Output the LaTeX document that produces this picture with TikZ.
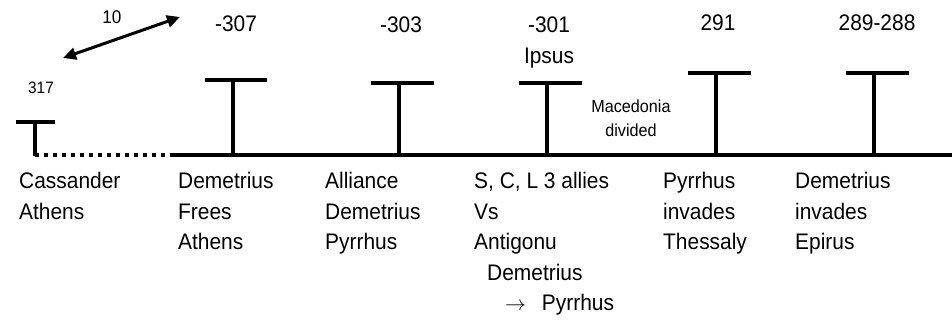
\documentclass[tikz,border=0pt]{standalone}
\usepackage{fontspec}
\setmainfont{Liberation Sans}[FakeStretch=0.93]
\usetikzlibrary{arrows.meta}
\tikzset{
  event/.style={anchor=north west, align=left, inner sep=0pt, font=\fontsize{22.5}{30.5}\selectfont},
  year/.style={anchor=base, inner sep=0pt, font=\fontsize{22.5}{25}\selectfont},
  tbar/.style={line width=4pt},
}
\begin{document}
\begin{tikzpicture}[x=1pt,y=-1pt]
\useasboundingbox (0,0) rectangle (952,323);
% Timeline
\draw[line width=3.5pt, dash pattern=on 4pt off 5pt] (35,155) -- (170,155);
\draw[line width=3.5pt] (170,155) -- (952,155);
% Markers
\draw[tbar] (16,122) -- (55,122); \draw[tbar] (35,122) -- (35,156);
\draw[tbar] (205,80) -- (267,80); \draw[tbar] (233,80) -- (233,156);
\draw[tbar] (371,83) -- (434,83); \draw[tbar] (399,83) -- (399,156);
\draw[tbar] (519,83) -- (582,83); \draw[tbar] (547,83) -- (547,156);
\draw[tbar] (688,73) -- (751,73); \draw[tbar] (716,73) -- (716,156);
\draw[tbar] (846,73) -- (909,73); \draw[tbar] (874,73) -- (874,156);
% Years
\node[year, font=\fontsize{16.5}{18}\selectfont] (y317) at (41,94) {317};
\node[year] (y307) at (236,32) {-307};
\node[year] (y303) at (401,33) {-303};
\node[year] (y301) at (549,33) {-301};
\node[year] (ipsus) at (549,64) {Ipsus};
\node[year] (y291) at (718,31) {291};
\node[year] (y289) at (877,31) {289-288};
% Gap of ten years
\coordinate (gapL) at (63,58);
\coordinate (gapR) at (180,17);
\draw[line width=3pt, {Triangle[length=13pt,width=12pt]}-{Triangle[length=13pt,width=12pt]}] (gapL) -- (gapR);
\node[year, font=\fontsize{18.4}{20}\selectfont] (gap) at (112,24) {10};
\node[anchor=north, align=center, inner sep=0pt, font=\fontsize{17.4}{24}\selectfont] (divide) at (631,100) {Macedonia\\divided};
% Events
\node[event] (ev317) at (19,172) {Cassander\\Athens};
\node[event] (ev307) at (178,172) {Demetrius\\Frees\\Athens};
\node[event] (ev303) at (325,172) {Alliance\\Demetrius\\Pyrrhus};
\node[event] (ev301) at (474,172) {S, C, L 3 allies\\Vs\\Antigonu\\\hspace*{13pt}Demetrius\\\hspace*{31pt}$\rightarrow$\hspace{16pt}Pyrrhus};
\node[event] (ev291) at (663,172) {Pyrrhus\\invades\\Thessaly};
\node[event] (ev289) at (795,172) {Demetrius\\invades\\Epirus};
\end{tikzpicture}
\end{document}
